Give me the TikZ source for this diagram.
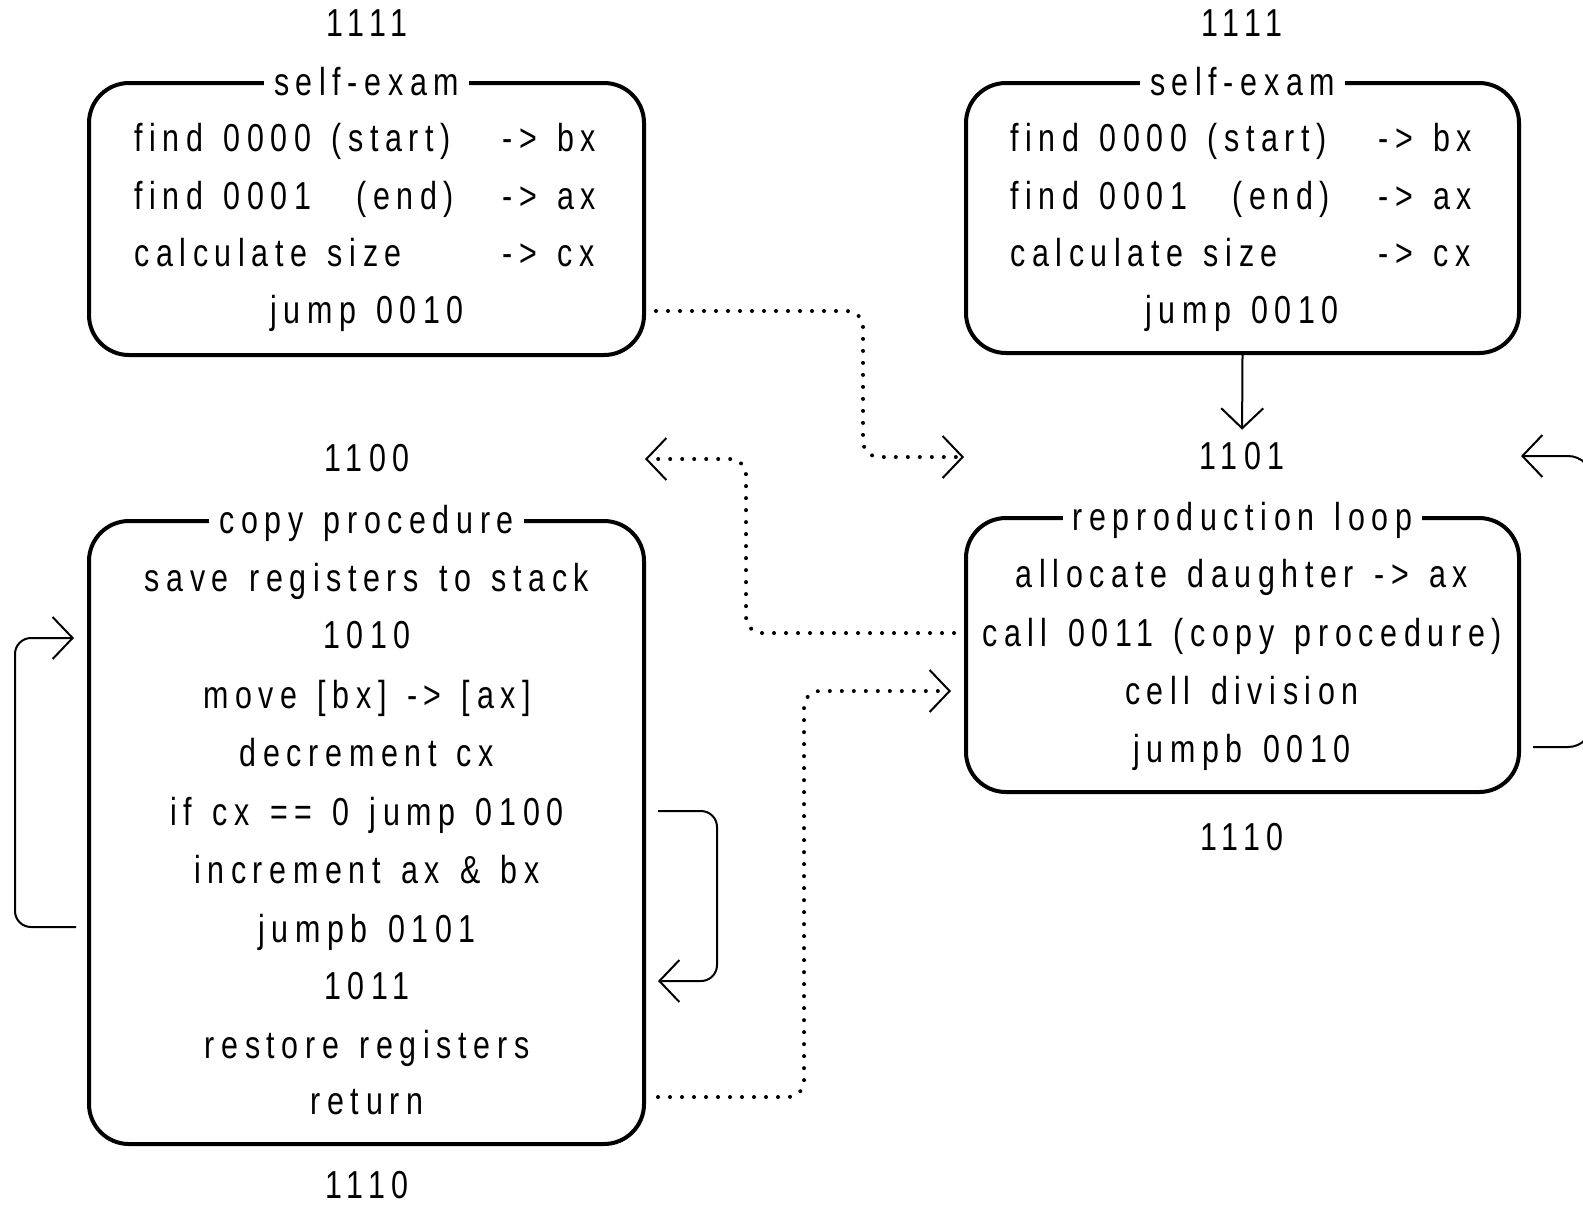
\documentclass[tikz,border=0pt]{standalone}
\usepackage{fontspec}
\setmainfont{Liberation Sans}[FakeStretch=0.78,LetterSpace=17,WordSpace=1.35]
\usetikzlibrary{arrows.meta}
\newcommand{\regto}[2]{\makebox[184pt][l]{#1}-> #2}
\tikzset{
  prog/.style={draw,line width=2pt,rounded corners=20pt},
  title/.style={fill=white,inner xsep=5pt,inner ysep=1pt,anchor=mid,yshift=-4.5pt},
  ln/.style={inner sep=0pt,anchor=mid,yshift=-2.5pt},
  addr/.style={inner sep=0pt,anchor=mid,yshift=-2.5pt},
  flow/.style={line width=1pt,rounded corners=8pt,-{Straight Barb[length=10pt,width=21pt]}},
  call/.style={line width=2pt,line cap=round,dash pattern=on 0pt off 6pt,rounded corners=8pt,-{Straight Barb[length=10pt,width=21pt,line width=1pt]}}
}
\begin{document}
\begin{tikzpicture}[x=0.5pt,y=-0.5pt,font=\fontsize{19.5}{23}\selectfont]
  \useasboundingbox (0,0) rectangle (1583,1206);
  \clip (0,0) rectangle (1583,1206);

  % self-exam, left copy
  \node[addr] (a1) at (367,26) {1111};
  \node[prog,minimum width=277.5pt,minimum height=136pt] (exam1) at (366.5,219) {};
  \node[title] (t1) at (exam1.north) {self-exam};
  \node[ln,anchor=mid west] (e11) at (134,141) {\regto{find 0000 (start)}{bx}};
  \node[ln,anchor=mid west] (e12) at (134,199) {\regto{\makebox[111pt][l]{find 0001}(end)}{ax}};
  \node[ln,anchor=mid west] (e13) at (134,256) {\regto{calculate size}{cx}};
  \node[ln] (e14) at (367,313) {jump 0010};

  % self-exam, right copy
  \node[addr] (a2) at (1242,26) {1111};
  \node[prog,minimum width=276.5pt,minimum height=135pt] (exam2) at (1242.5,218) {};
  \node[title] (t2) at (exam2.north) {self-exam};
  \node[ln,anchor=mid west] (e21) at (1010,141) {\regto{find 0000 (start)}{bx}};
  \node[ln,anchor=mid west] (e22) at (1010,199) {\regto{\makebox[111pt][l]{find 0001}(end)}{ax}};
  \node[ln,anchor=mid west] (e23) at (1010,256) {\regto{calculate size}{cx}};
  \node[ln] (e24) at (1242,313) {jump 0010};

  % reproduction loop
  \node[addr] (a3) at (1242,459) {1101};
  \node[prog,minimum width=276.5pt,minimum height=137pt] (repro) at (1242.5,655) {};
  \node[title] (t3) at (repro.north) {reproduction loop};
  \node[ln] (r1) at (1242,577) {allocate daughter -> ax};
  \node[ln] (r2) at (1242,636) {call 0011 (copy procedure)};
  \node[ln] (r3) at (1242,694) {cell division};
  \node[ln] (r4) at (1242,752) {jumpb 0010};
  \node[addr] (a4) at (1242,840) {1110};

  % copy procedure
  \node[addr] (a5) at (367,461) {1100};
  \node[prog,minimum width=277.5pt,minimum height=311.5pt] (copy) at (366.5,832.5) {};
  \node[title] (t4) at (copy.north) {copy procedure};
  \node[ln] (c1) at (367,581) {save registers to stack};
  \node[ln] (c2) at (367,638) {1010};
  \node[ln] (c3) at (367,698) {move [bx] -> [ax]};
  \node[ln] (c4) at (367,756) {decrement cx};
  \node[ln] (c5) at (367,815) {if cx == 0 jump 0100};
  \node[ln] (c6) at (367,873) {increment ax \& bx};
  \node[ln] (c7) at (367,932) {jumpb 0101};
  \node[ln] (c8) at (367,989) {1011};
  \node[ln] (c9) at (367,1048) {restore registers};
  \node[ln] (c10) at (367,1104) {return};
  \node[addr] (a6) at (367,1188) {1110};

  % jumps
  \draw[flow,shorten >=6pt] (exam2.south) -- (a3.north);
  \coordinate (p1) at (76,927);  \coordinate (p2) at (74,638);
  \draw[flow] (p1) -- (15,927) -- (15,638) -- (p2);
  \coordinate (p3) at (658,811); \coordinate (p4) at (658,981);
  \draw[flow] (p3) -- (717,811) -- (717,981) -- (p4);
  \coordinate (p5) at (1533,747); \coordinate (p6) at (1521,456);
  \draw[flow,rounded corners=12pt] (p5) -- (1592,747) -- (1592,456) -- (p6);

  % calls between cells
  \coordinate (q1) at (656,311); \coordinate (q2) at (964,457);
  \draw[call] (q1) -- (863,311) -- (863,457) -- (q2);
  \coordinate (q3) at (954,633); \coordinate (q4) at (645,459);
  \draw[call] (q3) -- (746,633) -- (746,459) -- (q4);
  \coordinate (q5) at (658,1097); \coordinate (q6) at (951,691);
  \draw[call] (q5) -- (804,1097) -- (804,691) -- (q6);
\end{tikzpicture}
\end{document}
